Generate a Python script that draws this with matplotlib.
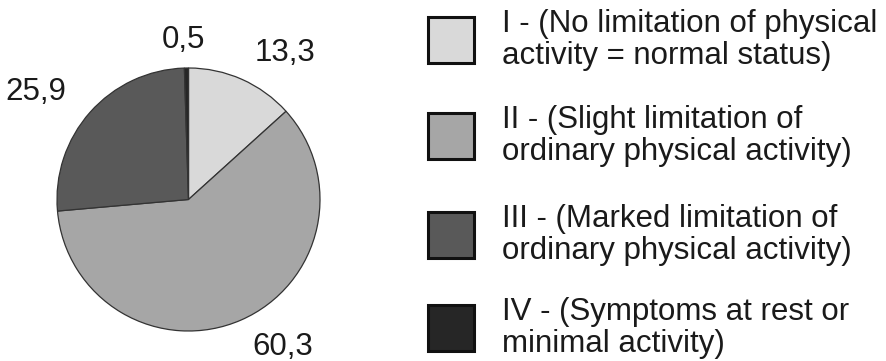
import numpy as np
import matplotlib
matplotlib.use("Agg")
import matplotlib.pyplot as plt
from matplotlib.patches import Rectangle

plt.rcParams['font.family'] = ['Liberation Sans', 'DejaVu Sans']

# NYHA functional class distribution (%)
values = [13.3, 60.3, 25.9, 0.5]
value_labels = ["13,3", "60,3", "25,9", "0,5"]
colors = ["#d9d9d9", "#a6a6a6", "#595959", "#262626"]
legend_lines = [
    "I - (No limitation of physical\nactivity = normal status)",
    "II - (Slight limitation of\nordinary physical activity)",
    "III - (Marked limitation of\nordinary physical activity)",
    "IV - (Symptoms at rest or\nminimal activity)",
]
# label placement: (radius factor, angle in degrees)
label_polar = [(1.33, 56.6), (1.33, -57.4), (1.42, 145.0), (1.21, 92.0)]

W, H = 887, 361
fig = plt.figure(figsize=(W / 100, H / 100), dpi=100)
ax = fig.add_axes([0, 0, 1, 1])

cx, cy, r = 188.5, H - 199.5, 131.5
ax.pie(values, colors=colors, startangle=90, counterclock=False,
       center=(cx, cy), radius=r, frame=True,
       wedgeprops=dict(edgecolor="#333333", linewidth=0.9))
ax.set_xlim(0, W)
ax.set_ylim(0, H)
ax.axis("off")

for txt, (f, ang) in zip(value_labels, label_polar):
    a = np.deg2rad(ang)
    ax.text(cx + f * r * np.cos(a), cy + f * r * np.sin(a), txt,
            ha="center", va="center", fontsize=22.5, color="#1a1a1a")

# legend
sq = 46
sq_x = 428
centers = [40, 136.3, 234.7, 328.3]
for c, yc, txt in zip(colors, centers, legend_lines):
    y = H - yc
    ax.add_patch(Rectangle((sq_x, y - sq / 2), sq, sq, facecolor=c,
                           edgecolor="#111111", linewidth=2.2))
    ax.text(502, y, txt, ha="left", va="center", fontsize=22.5,
            color="#1a1a1a", linespacing=1.08)

fig.savefig("out.png", dpi=100)
